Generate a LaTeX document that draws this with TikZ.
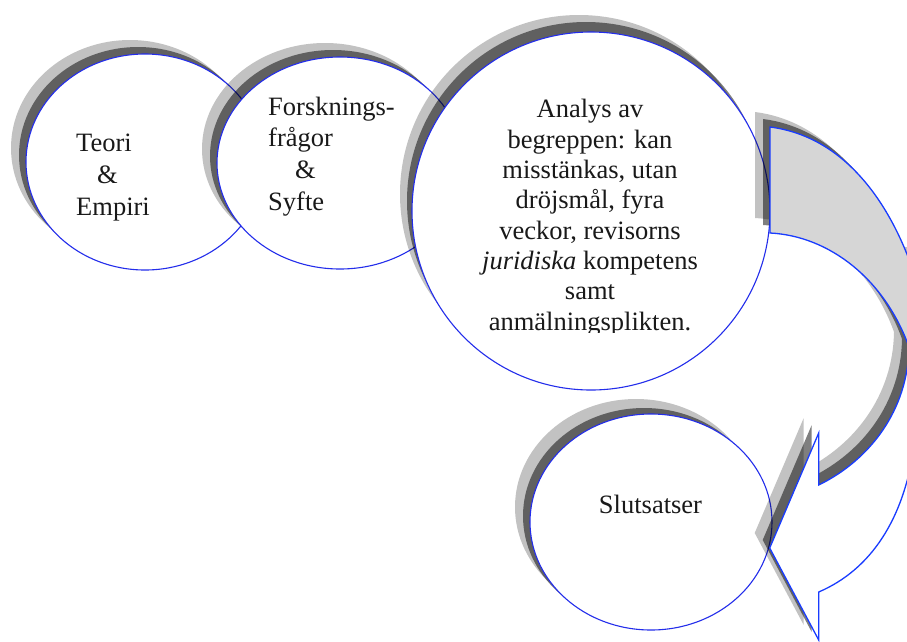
\documentclass[tikz,border=0pt]{standalone}
\usepackage{fontspec}
\setmainfont{Liberation Serif}
\definecolor{ringblue}{RGB}{35,45,235}
\definecolor{arrowblue}{RGB}{25,60,255}
\definecolor{bandgray}{RGB}{214,214,214}
\tikzset{
  ring/.style={draw=ringblue, line width=1.1pt, fill=white},
  arrowpart/.style={draw=arrowblue, line width=1.3pt},
  lbl/.style={font=\fontsize{26.5}{31.6}\selectfont, inner sep=0pt, text=black!90},
}
\begin{document}
\begin{tikzpicture}[x=1pt,y=-1pt]
\fill[white] (0,0) rectangle (907,641);
\clip (0,0) rectangle (907,641);

% two-layer drop shadow (light outer, dark inner), offset up and to the left
% ring 1
\foreach \dx/\dy/\op in {-15/-14/0.24,-7/-7/0.5}
  \fill[black, fill opacity=\op] (145+\dx,162+\dy) ellipse [x radius=119, y radius=108];
\filldraw[ring] (145,162) ellipse [x radius=119, y radius=108];
% ring 2
\foreach \dx/\dy/\op in {-15/-14/0.24,-7/-7/0.5}
  \fill[black, fill opacity=\op] (340+\dx,163+\dy) ellipse [x radius=123, y radius=106];
\filldraw[ring] (340,163) ellipse [x radius=123, y radius=106];
% ring 3
\foreach \dx/\dy/\op in {-12/-17/0.24,-5/-10/0.5}
  \fill[black, fill opacity=\op] (591+\dx,211+\dy) circle [radius=179];
\filldraw[ring] (591,211) circle [radius=179];
% ring 4
\foreach \dx/\dy/\op in {-15/-15/0.24,-7/-6/0.5}
  \fill[black, fill opacity=\op] (651+\dx,522+\dy) ellipse [x radius=121, y radius=108];
\filldraw[ring] (651,522) ellipse [x radius=121, y radius=108];

% curved return arrow: shadow of the whole outline
\foreach \dx/\dy/\op in {-15/-15/0.24,-7/-8/0.5}
  \fill[black, fill opacity=\op, shift={(\dx,\dy)}]
    (770,127) .. controls (840,136) and (885,195) .. (910,262)
    -- (960,262) -- (960,440) -- (915,440)
    .. controls (905,520) and (870,570) .. (818.7,592)
    -- (818.7,640) -- (769.7,548) -- (818.7,433) -- (818.7,485)
    .. controls (870,460) and (908,410) .. (909,347)
    .. controls (885,280) and (830,236) .. (770,233) -- cycle;
% upper (grey) face of the arrow band
\filldraw[arrowpart, fill=bandgray]
  (770,127) .. controls (840,136) and (885,195) .. (910,262)
  -- (960,262) -- (960,347) -- (909,347)
  .. controls (885,280) and (830,236) .. (770,233) -- cycle;
% lower (white) face with the arrow head
\filldraw[arrowpart, fill=white]
  (909,347) .. controls (908,410) and (870,460) .. (818.7,485)
  -- (818.7,433) -- (769.7,548) -- (818.7,640) -- (818.7,592)
  .. controls (870,570) and (905,520) .. (915,440)
  -- (960,440) -- (960,347) -- cycle;

% labels (a multi-line node sits on the baseline of its last line)
\node[lbl, anchor=base west, align=left] (teori) at (76,215)
  {Teori\\\hspace*{21pt}\&\\Empiri};
\node[lbl, anchor=base west, align=left] (fragor) at (268,210)
  {Forsknings-\\frågor\\\hspace*{27pt}\&\\Syfte};
\begin{scope}
  \clip (400,0) rectangle (790,332);
  \node[lbl, font=\fontsize{26.5}{30.3}\selectfont, anchor=base, align=center] (analys) at (590,330)
    {Analys av\\begreppen: kan\\misstänkas, utan\\dröjsmål, fyra\\veckor, revisorns\\\textit{juridiska} kompetens\\samt\\anmälningsplikten.};
\end{scope}
\node[lbl, anchor=base] (slut) at (650.5,513) {Slutsatser};
\end{tikzpicture}
\end{document}
